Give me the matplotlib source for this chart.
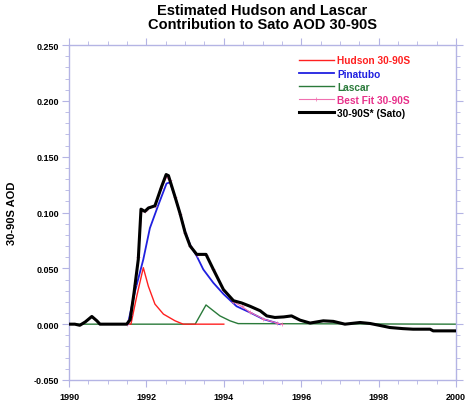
import numpy as np
import matplotlib
matplotlib.use("Agg")
import matplotlib.pyplot as plt
from matplotlib.ticker import MultipleLocator, FormatStrFormatter

plt.rcParams["font.family"] = ["Liberation Sans", "DejaVu Sans"]

# -----------------------------------------------------------------------
# Data
# -----------------------------------------------------------------------
sato_t = [1990.0, 1990.15, 1990.28, 1990.42, 1990.59, 1990.72, 1990.8, 1991.0,
          1991.3, 1991.49, 1991.58, 1991.68, 1991.79, 1991.86, 1991.96, 1992.05,
          1992.22, 1992.31, 1992.39, 1992.51, 1992.57, 1992.74, 1992.87, 1993.0,
          1993.13, 1993.30, 1993.54, 1993.73, 1993.99, 1994.25, 1994.46, 1994.68,
          1994.94, 1995.11, 1995.32, 1995.55, 1995.75, 1995.97, 1996.23, 1996.57,
          1996.83, 1997.13, 1997.52, 1997.78, 1998.04, 1998.29, 1998.63, 1998.89,
          1999.33, 1999.41, 2000.0]
sato_v = [0.0, 0.0, -0.001, 0.002, 0.0069, 0.003, 0.0, 0.0,
          0.0, 0.0, 0.004, 0.028, 0.058, 0.103, 0.101, 0.104,
          0.106, 0.115, 0.123, 0.134, 0.133, 0.114, 0.099, 0.082,
          0.070, 0.0625, 0.0625, 0.049, 0.031, 0.021, 0.019, 0.016,
          0.012, 0.0074, 0.006, 0.0065, 0.0074, 0.0036, 0.001, 0.003,
          0.0025, 0.0, 0.0015, 0.0006, -0.0012, -0.003, -0.004, -0.0045,
          -0.0045, -0.006, -0.006]

pinatubo_t = [1991.52, 1991.71, 1991.92, 1992.09, 1992.30, 1992.52,
              1992.61, 1992.74, 1992.87, 1993.0, 1993.13, 1993.30, 1993.47,
              1993.73, 1993.99, 1994.33, 1994.68, 1995.02, 1995.37, 1995.45]
pinatubo_v = [0.0, 0.030, 0.058, 0.086, 0.106, 0.126,
              0.127, 0.114, 0.099, 0.083, 0.071, 0.061, 0.049,
              0.037, 0.027, 0.016, 0.0104, 0.0045, 0.001, 0.0]

hudson_t = [1991.5, 1991.60, 1991.75, 1991.92, 1992.05, 1992.22, 1992.44,
            1992.74, 1992.95, 1994.0]
hudson_v = [0.0, 0.0, 0.025, 0.0506, 0.034, 0.018, 0.009,
            0.003, 0.0, 0.0]

lascar_t = [1990.0, 1993.26, 1993.54, 1993.73, 1993.90, 1994.16, 1994.37, 2000.0]
lascar_v = [0.0, 0.0, 0.0172, 0.012, 0.0074, 0.003, 0.0005, 0.0]

bestfit_t = [1991.5, 1991.6, 1991.71, 1991.79, 1991.88, 1991.96, 1992.05,
             1992.22, 1992.39, 1992.52, 1992.61, 1992.74, 1992.87, 1993.0,
             1993.13, 1993.30, 1993.54, 1993.73, 1993.99, 1994.25, 1994.46,
             1994.68, 1995.02, 1995.37, 1995.5]
bestfit_v = [0.0, 0.008, 0.035, 0.060, 0.102, 0.101, 0.104,
             0.106, 0.122, 0.132, 0.129, 0.114, 0.099, 0.082,
             0.070, 0.062, 0.062, 0.049, 0.031, 0.020, 0.016,
             0.0106, 0.0047, 0.001, 0.0]

fig = plt.figure(figsize=(4.71, 4.06), dpi=100)
ax = fig.add_axes([0.1465, 0.0616, 0.8217, 0.825])

axis_col = "#b4b4e4"

l1, = ax.plot(hudson_t, hudson_v, color="#ff2020", lw=1.0, zorder=3,
              label="Hudson 30-90S")
l2, = ax.plot(pinatubo_t, pinatubo_v, color="#2020e0", lw=1.3, zorder=4,
              label="Pinatubo")
l3, = ax.plot(lascar_t, lascar_v, color="#2a7a3a", lw=1.0, zorder=2,
              label="Lascar")
l4, = ax.plot(bestfit_t, bestfit_v, color="#f070b0", lw=0.8, zorder=5,
              marker="+", markersize=2.5, markeredgewidth=0.5,
              label="Best Fit 30-90S")
l5, = ax.plot(sato_t, sato_v, color="black", lw=2.2, zorder=6,
              label="30-90S* (Sato)")

ax.set_xlim(1990, 2000)
ax.set_ylim(-0.05, 0.25)
ax.xaxis.set_major_locator(MultipleLocator(2))
ax.xaxis.set_minor_locator(MultipleLocator(0.5))
ax.yaxis.set_major_locator(MultipleLocator(0.05))
ax.yaxis.set_minor_locator(MultipleLocator(0.01))
ax.yaxis.set_major_formatter(FormatStrFormatter("%.3f"))

for s in ax.spines.values():
    s.set_color(axis_col)
    s.set_linewidth(1.0)
ax.tick_params(which="both", direction="out", color=axis_col,
               top=True, right=True, labelsize=6.5)
ax.tick_params(which="major", length=5, width=0.8)
ax.tick_params(which="minor", length=3, width=0.6)
ax.tick_params(axis="y", which="major", pad=2)
for lab in ax.get_xticklabels() + ax.get_yticklabels():
    lab.set_fontweight("bold")

ax.set_ylabel("30-90S AOD", fontsize=8, fontweight="bold", labelpad=12)
ax.set_title("Estimated Hudson and Lascar\nContribution to Sato AOD 30-90S",
             fontsize=10.5, fontweight="bold", linespacing=1.05, pad=12)

leg = ax.legend(handles=[l1, l2, l3, l4, l5], loc="upper left",
                bbox_to_anchor=(0.575, 0.99), frameon=False, fontsize=7.3,
                handlelength=3.5, handletextpad=0.3, labelspacing=0.3,
                borderpad=0.2)
for txt, col in zip(leg.get_texts(), ["#ff2020", "#2020e0", "#2a7a3a",
                                      "#e8308a", "black"]):
    txt.set_color(col)
    txt.set_fontweight("bold")

fig.savefig("out.png", dpi=100)
